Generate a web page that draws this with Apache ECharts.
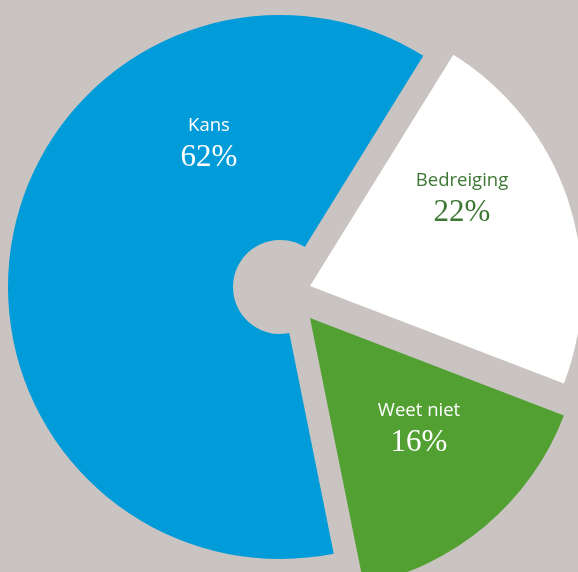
<!DOCTYPE html>
<html>
<head>
<meta charset="utf-8">
<script src="https://cdn.jsdelivr.net/npm/echarts@6/dist/echarts.min.js"></script>
<style>
  html, body { margin: 0; padding: 0; background: #c9c4c1; }
  #chart { width: 578px; height: 572px; }
</style>
</head>
<body>
<div id="chart"></div>
<script>
// data
const names = ['Bedreiging', 'Weet niet', 'Kans']
const values = [22, 16, 62]
const colors = ['#ffffff', '#52a032', '#009bd9']
const labelColors = ['#3d7734', '#ffffff', '#ffffff']

const bg = '#c9c4c1'
// each slice is drawn as its own pie, pulled apart from the others
const pieCenters = [[310, 286], [310, 318], [280, 287]]
const innerRadius = [0, 0, 47]
const labelPos = [[462, 197], [419, 427], [209, 142]]

const chart = echarts.init(document.getElementById('chart'))

const series = names.map((nm, k) => ({
  type: 'pie',
  center: pieCenters[k],
  radius: [innerRadius[k], 272],
  startAngle: 58.2,
  clockwise: true,
  silent: true,
  emphasis: { disabled: true },
  itemStyle: { borderWidth: 0 },
  label: {
    position: 'inside',
    formatter: p => '{n|' + p.name + '}\n{v|' + p.value + '%}',
    rich: {
      n: { fontFamily: 'Open Sans', fontSize: 18.5, lineHeight: 32, color: labelColors[k] },
      v: { fontFamily: 'Liberation Serif', fontSize: 31, lineHeight: 32, color: labelColors[k] }
    }
  },
  labelLayout: () => ({ x: labelPos[k][0], y: labelPos[k][1], align: 'center', verticalAlign: 'middle' }),
  data: names.map((n, i) => ({
    name: n,
    value: values[i],
    itemStyle: { color: i === k ? colors[i] : 'rgba(0,0,0,0)' },
    label: { show: i === k }
  }))
}))

chart.setOption({
  backgroundColor: bg,
  animation: false,
  series: series
})
</script>
</body>
</html>
